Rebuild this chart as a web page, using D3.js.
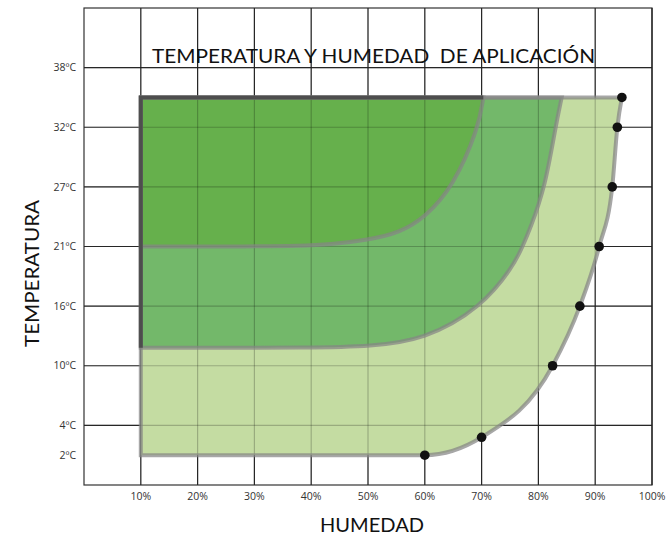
<!DOCTYPE html>
<html>
<head>
<meta charset="utf-8">
<script src="https://cdn.jsdelivr.net/npm/d3@7/dist/d3.min.js"></script>
<style>
  html, body { margin: 0; padding: 0; background: #fff; }
  svg { display: block; }
</style>
</head>
<body>
<svg id="chart" width="669" height="536"></svg>
<script>
// ---- data ----
const xTicks = [10, 20, 30, 40, 50, 60, 70, 80, 90, 100];
const yGridTicks = [4, 10, 16, 21, 27, 32, 38];
const yLabelTicks = [38, 32, 27, 21, 16, 10, 4, 2];
const yRowBreaks = [0, 4, 10, 16, 21, 27, 32, 38, 44];

// outer (light) zone boundary: [humidity %, temperature ºC]
const outerCurve = [[10, 2], [60, 2], [70, 3.2], [82.5, 10], [87.3, 16], [90.7, 21], [93, 27], [93.9, 32], [94.7, 35]];
const outerDots = [[60, 2], [70, 3.2], [82.5, 10], [87.3, 16], [90.7, 21], [93, 27], [93.9, 32], [94.7, 35]];
// middle zone boundary
const midCurve = [[10, 11.8], [42, 11.8], [50, 11.95], [60, 12.6], [70, 15.9], [75.6, 19.35], [77.2, 21], [78.5, 22.7], [81.2, 27], [83.0, 32], [84.1, 35]];
// inner (dark) zone boundary
const innerCurve = [[10, 21], [30, 21], [38, 21.05], [43.3, 21.2], [50, 21.65], [55.6, 22.4], [60, 23.9], [65, 27], [69.5, 32], [70.3, 35]];
const topTemp = 35;
const leftHum = 10;

const title = "TEMPERATURA Y HUMEDAD  DE APLICACIÓN";
const xTitle = "HUMEDAD";
const yTitle = "TEMPERATURA";

// ---- layout ----
const mL = 84, mR = 652, mT = 8, mB = 485;
const svg = d3.select("#chart");
svg.append("rect").attr("width", 669).attr("height", 536).attr("fill", "#fff");

const x = d3.scaleLinear().domain([0, 100]).range([mL, mR]);
const rowH = (mB - mT) / (yRowBreaks.length - 1);
const y = d3.scaleLinear().domain(yRowBreaks).range(yRowBreaks.map((d, i) => mB - i * rowH));

function drawGrid(g, color, opacity) {
  g.selectAll("line.v").data(xTicks).join("line").attr("class", "v")
    .attr("x1", d => x(d)).attr("x2", d => x(d)).attr("y1", mT).attr("y2", mB)
    .attr("stroke", color).attr("stroke-opacity", opacity).attr("stroke-width", 1.2);
  g.selectAll("line.h").data(yGridTicks).join("line").attr("class", "h")
    .attr("x1", mL).attr("x2", mR).attr("y1", d => y(d)).attr("y2", d => y(d))
    .attr("stroke", color).attr("stroke-opacity", opacity).attr("stroke-width", 1.2);
}

const grid1 = svg.append("g");
drawGrid(grid1, "#333", 1);
grid1.append("rect").attr("x", mL).attr("y", mT).attr("width", mR - mL).attr("height", mB - mT)
  .attr("fill", "none").attr("stroke", "#333").attr("stroke-width", 1.2);

const lineSmooth = d3.line().x(d => x(d[0])).y(d => y(d[1])).curve(d3.curveBasis);
const lineMono = d3.line().x(d => x(d[0])).y(d => y(d[1])).curve(d3.curveMonotoneX);
function zonePath(pts, gen) {
  return gen(pts) + `L${x(leftHum)},${y(topTemp)}Z`;
}

const zones = [
  { pts: outerCurve, fill: "#c4dca2", gen: lineMono },
  { pts: midCurve, fill: "#73b86a", gen: lineSmooth },
  { pts: innerCurve, fill: "#66b04c", gen: lineSmooth }
];

const fills = svg.append("g");
fills.selectAll("path").data(zones).join("path")
  .attr("d", d => zonePath(d.pts, d.gen)).attr("fill", d => d.fill);

const grid2 = svg.append("g");
drawGrid(grid2, "#000", 0.22);

const strokes = svg.append("g");
strokes.selectAll("path").data(zones).join("path")
  .attr("d", d => zonePath(d.pts, d.gen)).attr("fill", "none")
  .attr("stroke", "#858585").attr("stroke-opacity", 0.72).attr("stroke-width", 4)
  .attr("stroke-linejoin", "miter");

// darker frame along the top-left edges of the inner zones
const framePts = [[leftHum, midCurve[0][1]], [leftHum, topTemp], [innerCurve[innerCurve.length - 1][0], topTemp]];
svg.append("path")
  .attr("d", d3.line().x(d => x(d[0])).y(d => y(d[1]))(framePts))
  .attr("fill", "none").attr("stroke", "#444").attr("stroke-opacity", 0.85).attr("stroke-width", 4);

svg.append("g").selectAll("circle").data(outerDots).join("circle")
  .attr("cx", d => x(d[0])).attr("cy", d => y(d[1])).attr("r", 4.8).attr("fill", "#111");

// tick labels
svg.append("g").selectAll("text").data(xTicks).join("text")
  .attr("x", d => x(d)).attr("y", 500).attr("text-anchor", "middle")
  .attr("font-family", "'Open Sans', sans-serif").attr("font-size", 10.5).attr("fill", "#333")
  .text(d => d + "%");
svg.append("g").selectAll("text").data(yLabelTicks).join("text")
  .attr("x", 76).attr("y", d => y(d)).attr("dy", "0.35em").attr("text-anchor", "end")
  .attr("font-family", "'Open Sans', sans-serif").attr("font-size", 10.5).attr("fill", "#333")
  .text(d => d + "ºC");

// titles
svg.append("text").attr("x", 373.5).attr("y", 63).attr("text-anchor", "middle")
  .style("white-space", "pre")
  .attr("font-family", "Lato, sans-serif").attr("font-size", 20).attr("fill", "#111")
  .attr("textLength", 443).attr("lengthAdjust", "spacingAndGlyphs")
  .text(title);
svg.append("text").attr("x", 372).attr("y", 532).attr("text-anchor", "middle")
  .attr("font-family", "Lato, sans-serif").attr("font-size", 20).attr("fill", "#111")
  .attr("textLength", 104).attr("lengthAdjust", "spacingAndGlyphs")
  .text(xTitle);
svg.append("text").attr("transform", "translate(39,273.5) rotate(-90)").attr("text-anchor", "middle")
  .attr("font-family", "Lato, sans-serif").attr("font-size", 20).attr("fill", "#111")
  .attr("textLength", 147).attr("lengthAdjust", "spacingAndGlyphs")
  .text(yTitle);
</script>
</body>
</html>
